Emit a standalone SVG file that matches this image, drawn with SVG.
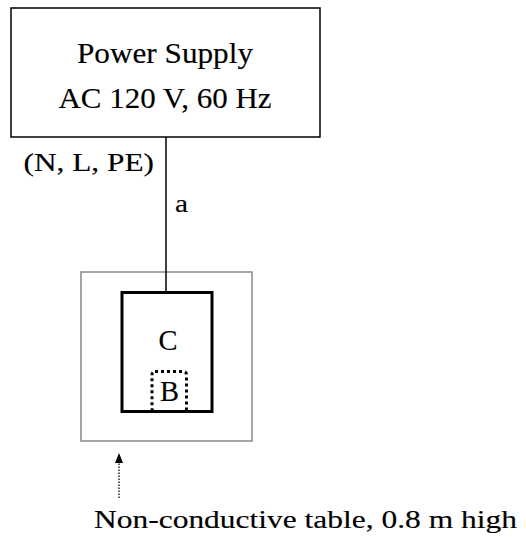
<svg xmlns="http://www.w3.org/2000/svg" width="526" height="537" viewBox="0 0 526 537">
<style>
text{font-family:"Liberation Serif","Times New Roman",serif;fill:#000;stroke:#000;stroke-width:0.15}
.big{font-size:29px}
.mid{font-size:26px}
.line{stroke:#000;stroke-width:1.5;fill:none}
</style>
<rect width="526" height="537" fill="#fff"/>
<g id="power-supply">
<rect x="11" y="8" width="309" height="129" fill="#fff" stroke="#000" stroke-width="1.5"/>
<text class="big" x="77" y="63" textLength="176" lengthAdjust="spacingAndGlyphs">Power Supply</text>
<text class="big" x="58.5" y="108" textLength="213" lengthAdjust="spacingAndGlyphs">AC 120 V, 60 Hz</text>
</g>
<g id="table">
<rect x="81" y="272" width="171" height="169" fill="none" stroke="#888" stroke-width="1.5"/>
</g>
<g id="node-C">
<rect x="122" y="292.5" width="90" height="119" fill="#fff" stroke="#000" stroke-width="3"/>
<text class="big" x="158.5" y="350" textLength="19" lengthAdjust="spacingAndGlyphs">C</text>
</g>
<g id="node-B">
<rect x="152" y="371.5" width="34.5" height="40" rx="3" fill="none" stroke="#000" stroke-width="3" stroke-dasharray="3 3"/>
<text class="big" x="160" y="400.5" textLength="19" lengthAdjust="spacingAndGlyphs">B</text>
</g>
<g id="connectors">
<line class="line" x1="166" y1="137" x2="166" y2="292"/>
<text class="mid" x="23.5" y="171" textLength="130.5" lengthAdjust="spacingAndGlyphs">(N, L, PE)</text>
<text class="mid" x="175" y="211.5" textLength="13" lengthAdjust="spacingAndGlyphs">a</text>
<line x1="119" y1="498" x2="119" y2="462" stroke="#000" stroke-width="1.3" stroke-dasharray="1.5 1.5"/>
<polygon points="119,453 115,463 123,463" fill="#000"/>
</g>
<text class="mid" x="94" y="527.5" textLength="423" lengthAdjust="spacingAndGlyphs">Non-conductive table, 0.8 m high</text>
</svg>
